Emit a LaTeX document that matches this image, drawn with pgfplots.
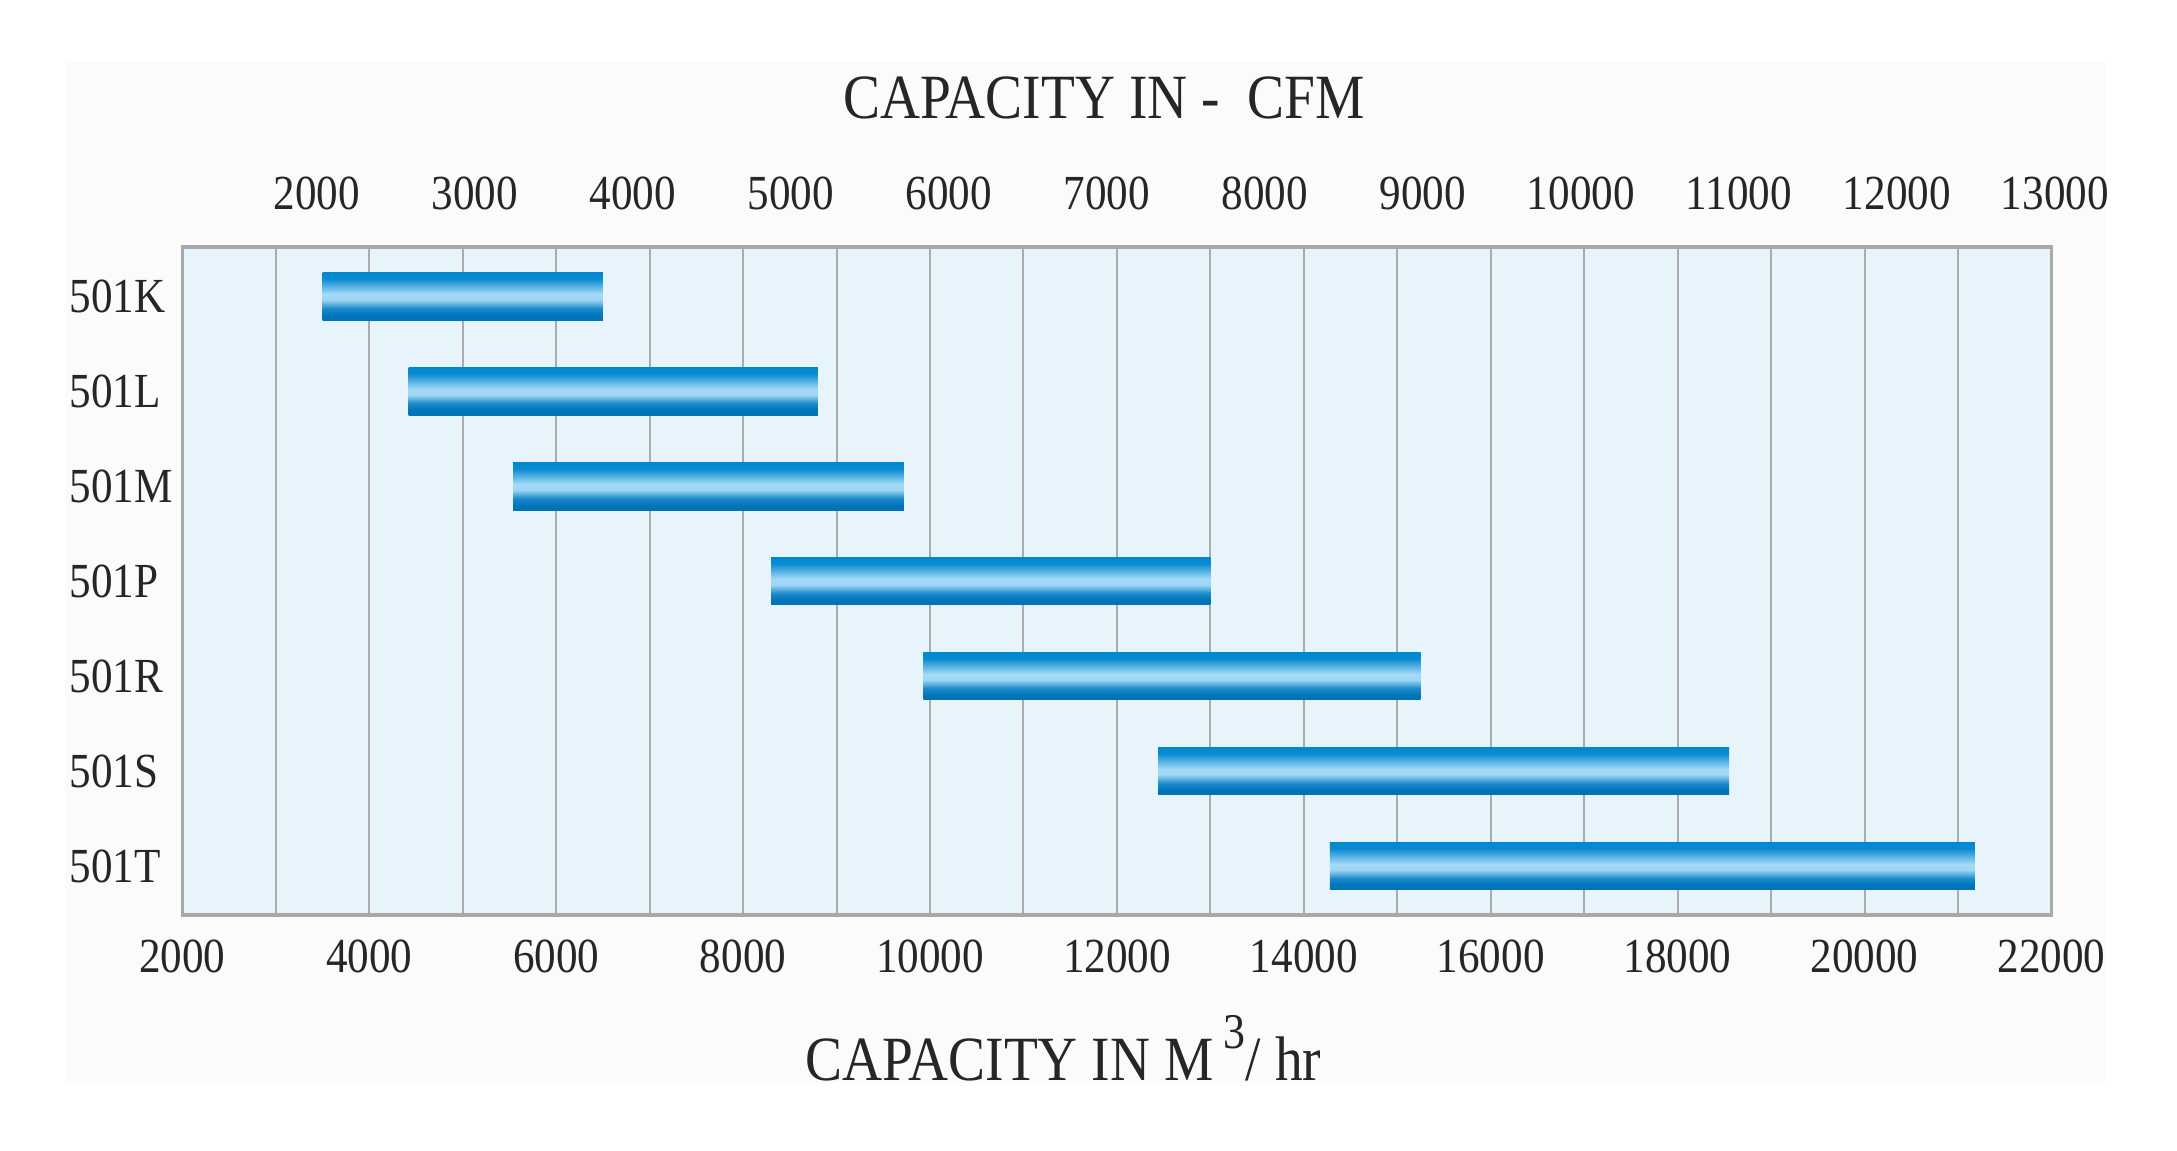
\documentclass[border=0pt]{standalone}
\usepackage{fontspec}
\setmainfont{Liberation Serif}[FakeStretch=0.88]
\usepackage{pgfplots}
\pgfplotsset{compat=1.18}

\definecolor{plotbg}{HTML}{E8F4FC}
\definecolor{gridc}{HTML}{ABABAB}
\definecolor{framec}{HTML}{A9A9A9}
\definecolor{txt}{HTML}{262626}
\definecolor{outerbg}{HTML}{FBFBFB}
\definecolor{bA}{HTML}{0074B8}
\definecolor{bB}{HTML}{1A8ACB}
\definecolor{bD}{HTML}{A4DAF5}
\definecolor{bE}{HTML}{9DD6F3}
\definecolor{bG}{HTML}{0A8BD1}
\definecolor{bH}{HTML}{0088CF}

\pgfdeclareverticalshading{barshade}{100bp}{%
  color(0bp)=(bA); color(25bp)=(bA); color(30bp)=(bA); color(37bp)=(bB);
  color(46bp)=(bE); color(52bp)=(bD); color(68bp)=(bG);
  color(75bp)=(bH); color(100bp)=(bH)}

\pgfplotsset{rangebar/.style={draw=none, shading=barshade}}

\begin{document}
\begin{tikzpicture}
\useasboundingbox (0pt,0pt) rectangle (544.25pt,287.5pt);
\fill[outerbg] (16.25pt,16.75pt) rectangle (526.5pt,272pt);
\begin{axis}[
  at={(45.6pt,58.75pt)}, anchor=south west,
  scale only axis, width=467.25pt, height=167pt,
  xmin=2000, xmax=22000, ymin=-0.516, ymax=6.516, y dir=reverse,
  axis background/.style={fill=plotbg},
  xtick={2000,4000,...,22000}, minor x tick num=1,
  scaled x ticks=false,
  xmajorgrids, xminorgrids,
  major grid style={gridc, line width=0.5pt},
  minor grid style={gridc, line width=0.5pt},
  major tick length=0pt, minor tick length=0pt,
  ytick={0,...,6}, yticklabels={501K,501L,501M,501P,501R,501S,501T},
  axis line style={framec, line width=0.8pt},
  tick label style={font=\fontsize{12.25}{14}\selectfont, text=txt, inner sep=0pt},
  xticklabel style={anchor=north}, xticklabel shift=6pt,
  yticklabel style={anchor=west, xshift=-28.35pt},
  /pgf/number format/assume math mode=true, /pgf/number format/1000 sep={},
  xtick pos=bottom, ytick pos=left,
]
% bars: start and end capacity (m3/hr), category index 0..6, half bar height 0.2525
\addplot[rangebar] coordinates {(3500,-0.2525) (6500,-0.2525) (6500,0.2525) (3500,0.2525)} --cycle;
\addplot[rangebar] coordinates {(4420,0.7475) (8800,0.7475) (8800,1.2525) (4420,1.2525)} --cycle;
\addplot[rangebar] coordinates {(5540,1.7475) (9720,1.7475) (9720,2.2525) (5540,2.2525)} --cycle;
\addplot[rangebar] coordinates {(8300,2.7475) (13000,2.7475) (13000,3.2525) (8300,3.2525)} --cycle;
\addplot[rangebar] coordinates {(9930,3.7475) (15250,3.7475) (15250,4.2525) (9930,4.2525)} --cycle;
\addplot[rangebar] coordinates {(12440,4.7475) (18550,4.7475) (18550,5.2525) (12440,5.2525)} --cycle;
\addplot[rangebar] coordinates {(14280,5.7475) (21180,5.7475) (21180,6.2525) (14280,6.2525)} --cycle;
\end{axis}
\begin{axis}[
  at={(45.6pt,58.75pt)}, anchor=south west,
  scale only axis, width=468.12pt, height=167pt,
  xmin=1151, xmax=13000, ymin=0, ymax=1,
  axis x line*=top, hide y axis, axis line style={draw=none},
  xtick={2000,3000,...,13000}, major tick length=0pt,
  scaled x ticks=false,
  tick label style={font=\fontsize{12.25}{14}\selectfont, text=txt, inner sep=0pt},
  xticklabel style={anchor=south}, xticklabel shift=9pt,
  /pgf/number format/assume math mode=true, /pgf/number format/1000 sep={},
]
\end{axis}
\node[anchor=base, font=\fontsize{15.75}{18}\selectfont, text=txt] at (276pt,258pt) {CAPACITY IN -\ \ CFM};
\node[anchor=base, font=\fontsize{15.75}{18}\selectfont, text=txt] at (265.9pt,17.5pt) {CAPACITY IN M\,\raisebox{0.5em}{\fontsize{12.5}{13}\selectfont 3}/ hr};
\end{tikzpicture}
\end{document}
